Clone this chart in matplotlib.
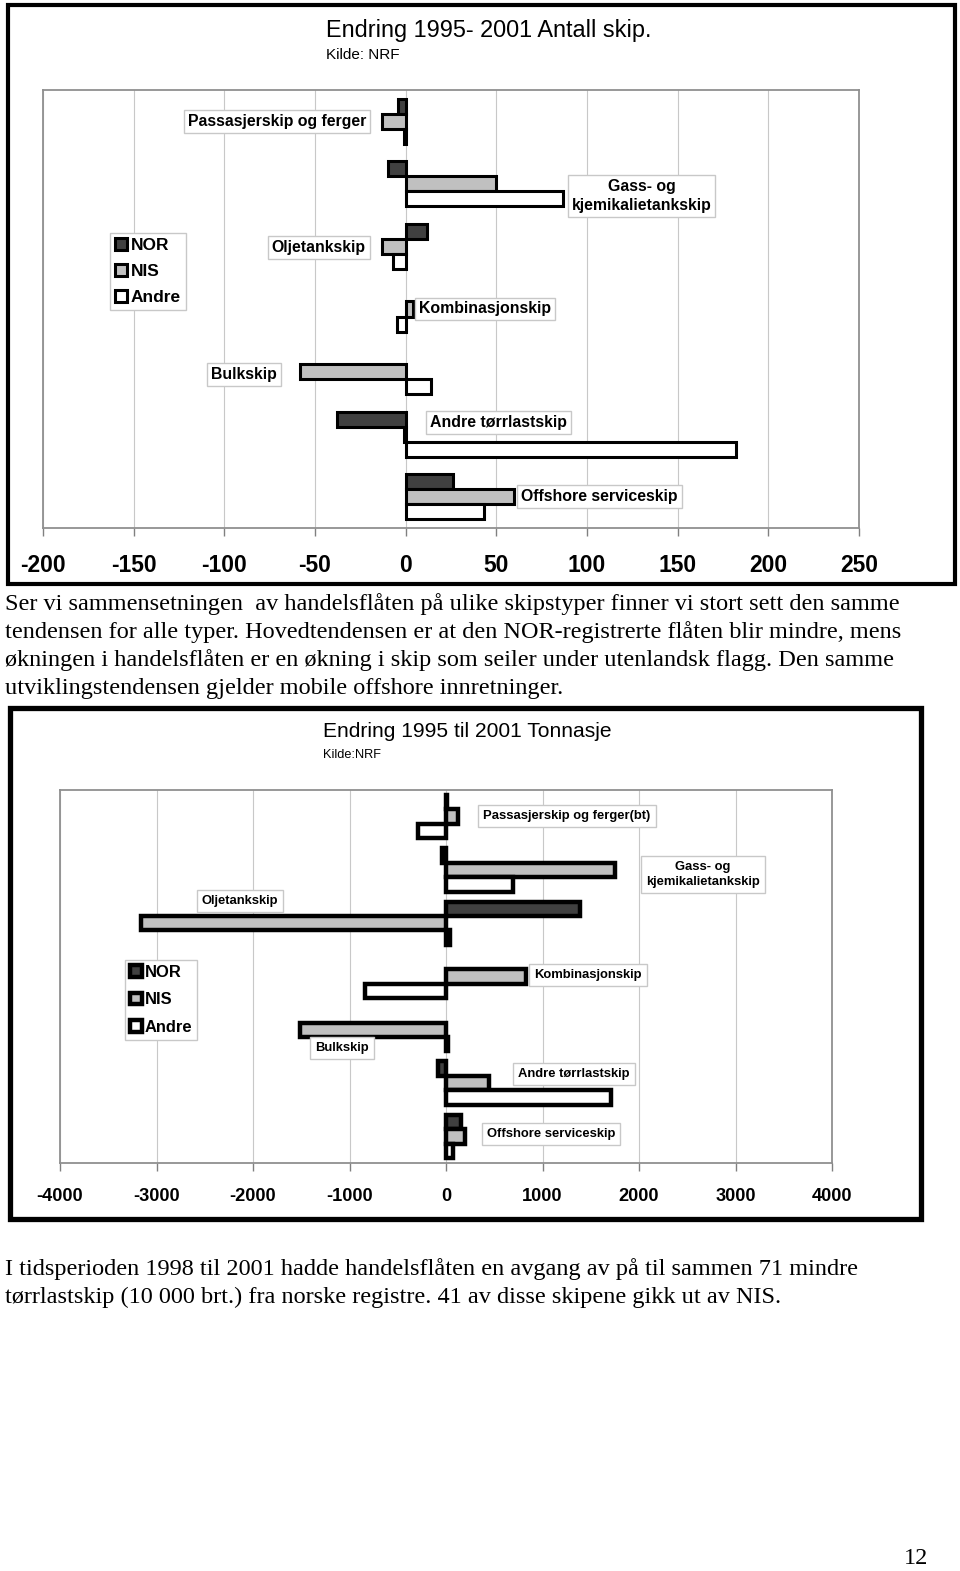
import matplotlib
matplotlib.use("Agg")
import matplotlib.pyplot as plt
from matplotlib.patches import Rectangle
from matplotlib import font_manager

W, H = 960, 1571

# Diagram 1: Endring 1995-2001, antall skip
kategorier1 = ["Passasjerskip og ferger", "Gass- og\nkjemikalietankskip", "Oljetankskip",
               "Kombinasjonskip", "Bulkskip", "Andre tørrlastskip", "Offshore serviceskip"]
nor1 = [-4, -10, 12, 0, 0, -38, 26]
nis1 = [-13, 50, -13, 4, -58, -1, 60]
andre1 = [-1, 87, -7, -5, 14, 182, 43]
ticks1 = [-200, -150, -100, -50, 0, 50, 100, 150, 200, 250]

# Diagram 2: Endring 1995-2001, tonnasje
kategorier2 = ["Passasjerskip og ferger(bt)", "Gass- og\nkjemikalietankskip", "Oljetankskip",
               "Kombinasjonskip", "Bulkskip", "Andre tørrlastskip", "Offshore serviceskip"]
nor2 = [10, -40, 1390, 0, 0, -80, 160]
nis2 = [125, 1750, -3160, 830, -1510, 450, 200]
andre2 = [-295, 690, 40, -840, 20, 1710, 75]
ticks2 = [-4000, -3000, -2000, -1000, 0, 1000, 2000, 3000, 4000]

serier = ["NOR", "NIS", "Andre"]
farger = ["#404040", "#c0c0c0", "#ffffff"]

# plassering av etikettene (dataenheter)
etikett_x1 = [-71, 130, -48, 44, -89, 51, 107]
etikett_y1 = [0.0, 1.19, 2.01, 3.0, 4.05, 4.81, 6.0]
etikett_x2 = [1254, 2663, -2135, 1472, -1078, 1326, 1088]
etikett_y2 = [-0.01, 1.09, 1.58, 2.97, 4.34, 4.83, 5.96]

tekst1 = ["Ser vi sammensetningen  av handelsflåten på ulike skipstyper finner vi stort sett den samme",
          "tendensen for alle typer. Hovedtendensen er at den NOR-registrerte flåten blir mindre, mens",
          "økningen i handelsflåten er en økning i skip som seiler under utenlandsk flagg. Den samme",
          "utviklingstendensen gjelder mobile offshore innretninger."]
tekst2 = ["I tidsperioden 1998 til 2001 hadde handelsflåten en avgang av på til sammen 71 mindre",
          "tørrlastskip (10 000 brt.) fra norske registre. 41 av disse skipene gikk ut av NIS."]

navn = {f.name for f in font_manager.fontManager.ttflist}
if "Liberation Sans Narrow" in navn:
    smal = "Liberation Sans Narrow"
    sk = 1.0
else:
    smal = "Liberation Sans"
    sk = 0.82
sans = "Liberation Sans"
serif = "Liberation Serif"


def px_rect(x0, y0, x1, y1):
    return [x0 / W, 1 - y1 / H, (x1 - x0) / W, (y1 - y0) / H]


def diagram(rect, kat, verdier, ticks, h, lw, tickfont, tickfs, tickpad, labfont, labfs, labpad,
            ex, ey, leg_pos, legfont, legfs, legspace):
    ax = fig.add_axes(px_rect(*rect))
    pos = list(range(len(kat)))
    bars = []
    for i, (vals, c) in enumerate(zip(verdier, farger)):
        b = ax.barh([p + (i - 1) * h for p in pos], vals, height=h, color=c,
                    edgecolor="black", linewidth=lw, zorder=3, label=serier[i])
        for patch, v in zip(b.patches, vals):
            if v == 0:
                patch.set_visible(False)
        bars.append(b)
    ax.set_xlim(ticks[0], ticks[-1])
    ax.set_ylim(len(kat) - 0.5, -0.5)
    ax.set_yticks([])
    ax.set_xticks(ticks)
    ax.set_xticklabels([str(t) for t in ticks], family=tickfont, fontsize=tickfs,
                       fontweight="bold")
    ax.tick_params(axis="x", direction="out", length=6, width=1, color="#808080",
                   pad=tickpad)
    ax.grid(axis="x", color="#c8c8c8", linewidth=0.8, zorder=0)
    for s in ax.spines.values():
        s.set_color("#909090")
        s.set_linewidth(1.3)
    for k, x, y in zip(kat, ex, ey):
        ax.text(x, y, k, ha="center", va="center", family=labfont, fontsize=labfs,
                fontweight="bold", linespacing=1.35, zorder=5,
                bbox=dict(boxstyle="square,pad=%.2f" % labpad, fc="white", ec="#c8c8c8", lw=1))
    leg = ax.legend(handles=bars, loc="upper left",
                    bbox_to_anchor=(leg_pos[0] / W, 1 - leg_pos[1] / H),
                    bbox_transform=fig.transFigure, frameon=True, fancybox=False,
                    edgecolor="#c8c8c8", framealpha=1, borderaxespad=0, borderpad=0.3,
                    handlelength=0.7, handleheight=0.7, handletextpad=0.2,
                    labelspacing=legspace,
                    prop=dict(family=legfont, size=legfs, weight="bold"))
    leg.get_frame().set_linewidth(1)
    leg.set_zorder(6)
    return ax


fig = plt.figure(figsize=(W / 100, H / 100), dpi=100)

# ramme og titler, diagram 1
fig.add_artist(Rectangle((8 / W, 1 - 584 / H), 947 / W, 579 / H, transform=fig.transFigure,
                         fill=False, ec="black", lw=3))
fig.text(326 / W, 1 - 31 / H, "Endring 1995- 2001 Antall skip.", family=sans, fontsize=16.9,
         va="center")
fig.text(326 / W, 1 - 55 / H, "Kilde: NRF", family=sans, fontsize=11, va="center")

diagram((43, 90, 859, 528), kategorier1, [nor1, nis1, andre1], ticks1, 0.24, 2.2,
        sans, 16.5, 13, sans, 11.4, 0.25, etikett_x1, etikett_y1, (110, 233), sans, 12.5, 0.62)

# tekst
for i, linje in enumerate(tekst1):
    fig.text(5 / W, 1 - (604 + 28 * i) / H, linje, family=serif, fontsize=17.5, va="center")

# ramme og titler, diagram 2
fig.add_artist(Rectangle((10 / W, 1 - 1219 / H), 911 / W, 511 / H, transform=fig.transFigure,
                         fill=False, ec="black", lw=3.8))
fig.text(323 / W, 1 - 732 / H, "Endring 1995 til 2001 Tonnasje", family=smal,
         fontsize=18.5 * sk, va="center")
fig.text(323 / W, 1 - 755 / H, "Kilde:NRF", family=smal, fontsize=11.2 * sk, va="center")

diagram((60, 790, 832, 1163), kategorier2, [nor2, nis2, andre2], ticks2, 0.27, 3.2,
        smal, 16 * sk, 12, smal, 11.4 * sk, 0.38, etikett_x2, etikett_y2, (125, 960), smal,
        14.5 * sk, 0.75)

for i, linje in enumerate(tekst2):
    fig.text(5 / W, 1 - (1269 + 28 * i) / H, linje, family=serif, fontsize=17.5, va="center")

fig.text(916 / W, 1 - 1559 / H, "12", family=serif, fontsize=17.5, va="center", ha="center")

fig.savefig("out.png", dpi=100)
